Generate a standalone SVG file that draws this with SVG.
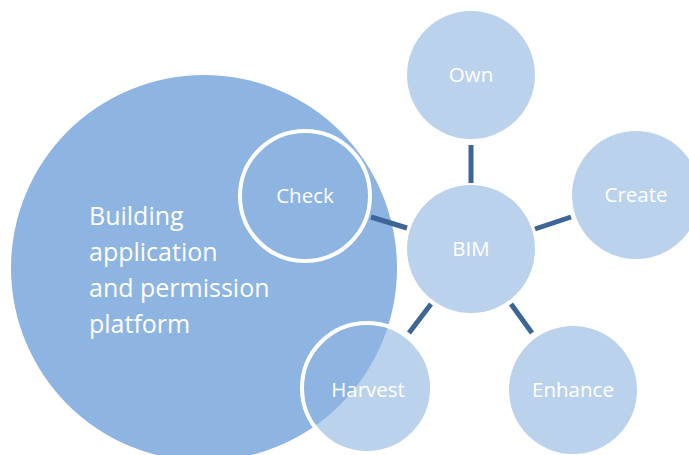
<svg xmlns="http://www.w3.org/2000/svg" width="689" height="455" viewBox="0 0 689 455">
<style>
.light{fill:#BBD2ED}
.dark{fill:#8EB4E2}
.ring{fill:none;stroke:#FFFFFF;stroke-width:4}
.lbl{font-family:"Open Sans","Liberation Sans",sans-serif;font-size:20.5px;fill:#FFFFFF;text-anchor:middle}
.big{font-family:"Open Sans","Liberation Sans",sans-serif;font-size:25px;fill:#FFFFFF}
.conn{stroke:#3D6597;stroke-width:5;fill:none}
</style>
<rect width="689" height="455" fill="#FFFFFF"/>
<g id="harvest-fill"><circle class="light" cx="367" cy="388" r="65"/></g>
<g id="platform">
<circle class="dark" cx="204" cy="268" r="193"/>
<text class="big" x="89" y="225">Building</text>
<text class="big" x="89" y="261">application</text>
<text class="big" x="89" y="297">and permission</text>
<text class="big" x="89" y="333">platform</text>
</g>
<g id="connectors">
<line class="conn" x1="471" y1="145" x2="471" y2="183"/>
<line class="conn" x1="535" y1="229" x2="571" y2="217"/>
<line class="conn" x1="371" y1="217" x2="407" y2="228"/>
<line class="conn" x1="431" y1="304" x2="409" y2="333"/>
<line class="conn" x1="511" y1="304" x2="532" y2="333"/>
</g>
<g id="check">
<circle class="dark" cx="305" cy="196" r="65"/>
<circle class="ring" cx="305" cy="196" r="65"/>
<text class="lbl" x="305" y="203">Check</text>
</g>
<g id="harvest">
<circle class="ring" cx="367" cy="388" r="65"/>
<text class="lbl" x="368" y="397">Harvest</text>
</g>
<g id="bim">
<circle class="light" cx="471" cy="249" r="64"/>
<text class="lbl" x="471" y="256">BIM</text>
</g>
<g id="own">
<circle class="light" cx="471" cy="75" r="64"/>
<text class="lbl" x="471" y="82">Own</text>
</g>
<g id="create">
<circle class="light" cx="636" cy="195" r="64"/>
<text class="lbl" x="636" y="202">Create</text>
</g>
<g id="enhance">
<circle class="light" cx="573" cy="390" r="64"/>
<text class="lbl" x="573" y="397">Enhance</text>
</g>
</svg>
